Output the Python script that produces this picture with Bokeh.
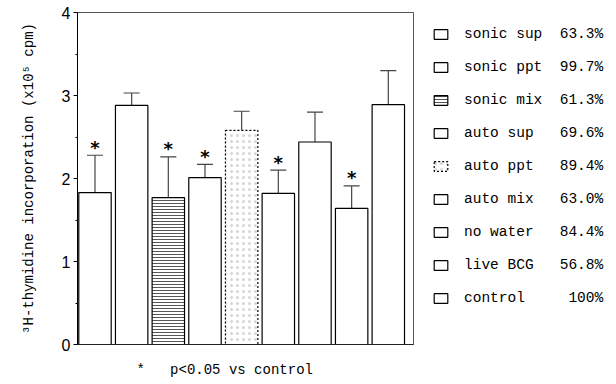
import numpy as np
from bokeh.plotting import figure
from bokeh.models import (Legend, LegendItem, Whisker, TeeHead, FixedTicker, Title,
                          ColumnDataSource, Range1d)
from bokeh.core.properties import value
from bokeh.embed import file_html
from bokeh.resources import INLINE

# ---- data ----
groups = ["sonic sup", "sonic ppt", "sonic mix", "auto sup", "auto ppt",
          "auto mix", "no water", "live BCG", "control"]
percent = ["63.3%", "99.7%", "61.3%", "69.6%", "89.4%", "63.0%", "84.4%", "56.8%", "100%"]
means = [1.83, 2.88, 1.77, 2.01, 2.58, 1.82, 2.44, 1.64, 2.89]
sd = [0.45, 0.15, 0.49, 0.16, 0.23, 0.28, 0.36, 0.27, 0.41]
significant = [True, False, True, True, False, True, False, True, False]
y_ticks = [0, 1, 2, 3, 4]
y_minor = [0.5, 1.5, 2.5, 3.5]
y_label = "\u00b3H-thymidine incorporation (x10\u2075 cpm)"
note = "*\u00a0\u00a0\u00a0p<0.05 vs control"

# ---- styles ----
hatch = {2: dict(hatch_pattern="horizontal_line", hatch_color="#555", hatch_scale=3, hatch_weight=1),
         4: dict(hatch_pattern="dot", hatch_color="#999", hatch_scale=6, hatch_weight=1, hatch_alpha=0.4)}
dash = {4: "2 2"}

xpos = np.arange(1, len(groups) + 1)
upper = [m + s for m, s in zip(means, sd)]

p = figure(frame_width=336, frame_height=332,
           x_range=Range1d(0.523, 9.687), y_range=Range1d(0, 4),
           output_backend="svg", toolbar_location=None,
           min_border_left=77, min_border_right=203, min_border_top=12, min_border_bottom=40)
p.grid.visible = False
p.outline_line_color = "#555"
p.background_fill_color = "white"

renderers = []
for i, g in enumerate(groups):
    kw = dict(fill_color="white", line_color="black", line_width=1.2)
    kw.update(hatch.get(i, {}))
    if i in dash:
        kw["line_dash"] = dash[i]
    r = p.vbar(x=[xpos[i]], top=[means[i]], bottom=0, width=0.884, **kw)
    renderers.append(r)

src = ColumnDataSource(dict(x=xpos, lower=means, upper=upper))
w = Whisker(base="x", lower="lower", upper="upper", source=src,
            line_color="#444", line_width=1.2, lower_head=None,
            upper_head=TeeHead(size=16, line_color="#444", line_width=1.2))
p.add_layout(w)

sx = [xpos[i] for i in range(len(groups)) if significant[i]]
sy = [upper[i] for i in range(len(groups)) if significant[i]]
p.text(x=sx, y=sy, text=["*"] * len(sx), text_align="center", text_baseline="alphabetic",
       y_offset=-8, text_font=value("DejaVu Sans"), text_font_style="bold",
       text_font_size="18px", text_color="black")

# axes
p.yaxis.ticker = FixedTicker(ticks=y_ticks, minor_ticks=y_minor)
p.yaxis.major_tick_out = 4
p.yaxis.major_tick_in = 0
p.yaxis.minor_tick_out = 2
p.yaxis.minor_tick_in = 0
p.yaxis.major_label_text_font = "Liberation Sans"
p.yaxis.major_label_text_font_size = "16px"
p.yaxis.major_label_text_color = "black"
p.yaxis.major_label_standoff = 3
p.yaxis.axis_label = y_label
p.yaxis.axis_label_text_font = "Liberation Mono"
p.yaxis.axis_label_text_font_size = "14px"
p.yaxis.axis_label_text_font_style = "normal"
p.yaxis.axis_label_text_color = "black"
p.yaxis.axis_label_standoff = 22
p.yaxis.axis_line_color = "black"
p.yaxis.major_tick_line_color = "black"
p.yaxis.minor_tick_line_color = "black"

p.xaxis.ticker = FixedTicker(ticks=[])
p.xaxis.major_tick_line_color = None
p.xaxis.minor_tick_line_color = None
p.xaxis.axis_line_color = "#222"

# legend
nb = "\u00a0"
items = []
for i, g in enumerate(groups):
    lab = g + nb * (16 - len(g) - len(percent[i])) + percent[i]
    items.append(LegendItem(label=lab, renderers=[renderers[i]]))
legend = Legend(items=items, location=(19, 36), border_line_color=None,
                background_fill_alpha=0, padding=0, margin=0, spacing=13,
                label_height=20, glyph_width=17, glyph_height=12, label_standoff=15,
                label_text_font="Liberation Mono", label_text_font_size="14.5px",
                label_text_color="black")
p.add_layout(legend, "right")

# footnote
p.add_layout(Title(text=note, align="left", offset=59, standoff=31,
                   text_font="Liberation Mono", text_font_size="14px",
                   text_font_style="normal", text_color="black"), "below")

open("out.html", "w").write(file_html(p, INLINE))
